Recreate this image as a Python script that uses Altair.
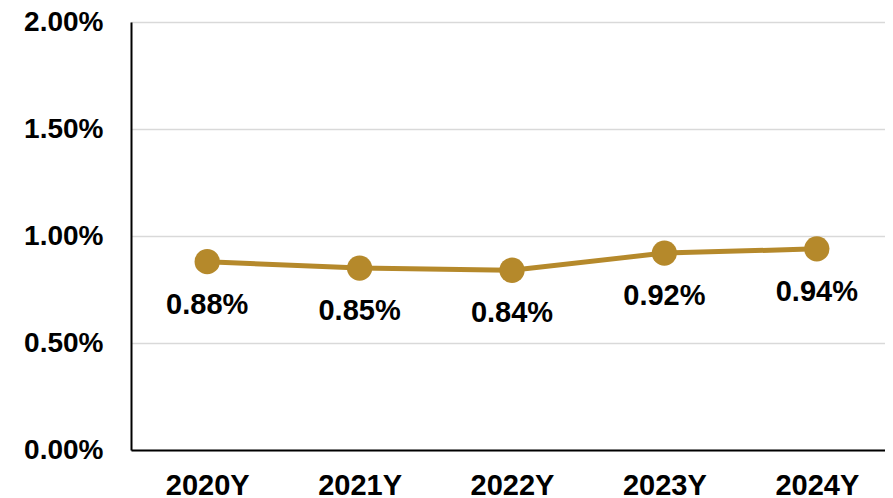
import altair as alt
import pandas as pd

years = ["2020Y", "2021Y", "2022Y", "2023Y", "2024Y"]
values = [0.0088, 0.0085, 0.0084, 0.0092, 0.0094]
labels = ["0.88%", "0.85%", "0.84%", "0.92%", "0.94%"]

df = pd.DataFrame({"year": years, "value": values, "label": labels})

GOLD = "#B5892B"
FONT = "Liberation Sans"

base = alt.Chart(df).encode(
    x=alt.X("year:N", sort=years, title=None,
            scale=alt.Scale(paddingInner=0, paddingOuter=0.5, range=[0, 762]),
            axis=alt.Axis(labelAngle=0, ticks=False, grid=False, domainColor="black",
                          domainWidth=2, labelFontSize=29, labelFont=FONT,
                          labelFontWeight="bold", labelColor="black", labelPadding=21)),
    y=alt.Y("value:Q", title=None,
            scale=alt.Scale(domain=[0, 0.02], nice=False, zero=True),
            axis=alt.Axis(values=[0, 0.005, 0.01, 0.015, 0.02], format=".2%", ticks=False,
                          domainColor="black", domainWidth=2, gridColor="#D9D9D9",
                          gridWidth=1.5, labelFontSize=28, labelFont=FONT,
                          labelFontWeight="bold", labelColor="black", labelPadding=28)),
)

line = base.mark_line(color=GOLD, strokeWidth=5)
points = base.mark_circle(color=GOLD, size=640, opacity=1)
text = base.mark_text(dy=43, fontSize=29, font=FONT, fontWeight="bold", color="black").encode(
    text="label:N")

chart = (line + points + text).properties(
    width=754, height=428,
    autosize=alt.AutoSizeParams(type="none"),
    padding={"left": 123, "top": 14, "right": 0, "bottom": 48},
).configure_view(stroke=None).configure(background="white")

chart.save("out.html", embed_options={"renderer": "svg", "actions": False})
